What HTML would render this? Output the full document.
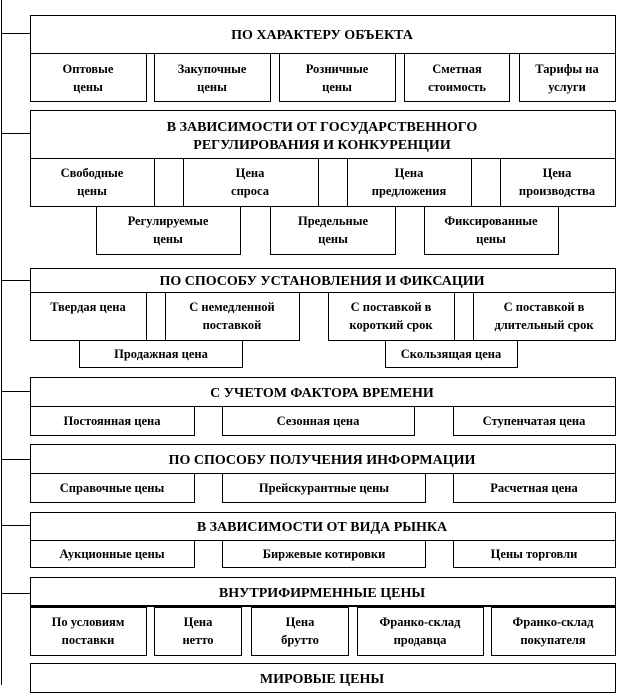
<!DOCTYPE html>
<html><head><meta charset="utf-8"><style>
html,body{margin:0;padding:0;background:#fff;}
svg{display:block}
text{font-family:"Liberation Serif",serif;font-weight:bold;fill:#000;text-anchor:middle;}
.h{font-size:14px}
.s{font-size:12.5px}
rect{fill:#fff;stroke:#000;stroke-width:1}
line{stroke:#000;stroke-width:1}
</style></head><body>
<svg width="618" height="696" viewBox="0 0 618 696" xmlns="http://www.w3.org/2000/svg">
<line x1="1.5" y1="0" x2="1.5" y2="685"/>
<line x1="1" y1="33.5" x2="30" y2="33.5"/>
<line x1="1" y1="133.5" x2="30" y2="133.5"/>
<line x1="1" y1="280.5" x2="30" y2="280.5"/>
<line x1="1" y1="391.5" x2="30" y2="391.5"/>
<line x1="1" y1="459.5" x2="30" y2="459.5"/>
<line x1="1" y1="525.5" x2="30" y2="525.5"/>
<line x1="1" y1="593.5" x2="30" y2="593.5"/>

<!-- S1 -->
<rect x="30.5" y="15.5" width="585" height="38"/>
<text class="h" x="322" y="39">ПО ХАРАКТЕРУ  ОБЪЕКТА</text>
<rect x="30.5" y="53.5" width="116" height="48"/>
<rect x="154.5" y="53.5" width="116" height="48"/>
<rect x="279.5" y="53.5" width="116" height="48"/>
<rect x="404.5" y="53.5" width="105" height="48"/>
<rect x="519.5" y="53.5" width="96" height="48"/>
<text class="s" x="88" y="73">Оптовые</text><text class="s" x="88" y="91">цены</text>
<text class="s" x="212" y="73">Закупочные</text><text class="s" x="212" y="91">цены</text>
<text class="s" x="337" y="73">Розничные</text><text class="s" x="337" y="91">цены</text>
<text class="s" x="457" y="73">Сметная</text><text class="s" x="457" y="91">стоимость</text>
<text class="s" x="567" y="73">Тарифы на</text><text class="s" x="567" y="91">услуги</text>

<!-- S2 -->
<rect x="30.5" y="110.5" width="585" height="48"/>
<text class="h" x="322" y="131">В ЗАВИСИМОСТИ  ОТ ГОСУДАРСТВЕННОГО</text>
<text class="h" x="322" y="149">РЕГУЛИРОВАНИЯ  И КОНКУРЕНЦИИ</text>
<rect x="30.5" y="158.5" width="585" height="48"/>
<line x1="154.5" y1="158" x2="154.5" y2="206"/>
<line x1="183.5" y1="158" x2="183.5" y2="206"/>
<line x1="318.5" y1="158" x2="318.5" y2="206"/>
<line x1="347.5" y1="158" x2="347.5" y2="206"/>
<line x1="471.5" y1="158" x2="471.5" y2="206"/>
<line x1="500.5" y1="158" x2="500.5" y2="206"/>
<text class="s" x="92" y="177">Свободные</text><text class="s" x="92" y="195">цены</text>
<text class="s" x="250" y="177">Цена</text><text class="s" x="250" y="195">спроса</text>
<text class="s" x="409" y="177">Цена</text><text class="s" x="409" y="195">предложения</text>
<text class="s" x="557" y="177">Цена</text><text class="s" x="557" y="195">производства</text>
<rect x="96.5" y="206.5" width="144" height="48"/>
<rect x="270.5" y="206.5" width="125" height="48"/>
<rect x="424.5" y="206.5" width="134" height="48"/>
<text class="s" x="168" y="225">Регулируемые</text><text class="s" x="168" y="243">цены</text>
<text class="s" x="333" y="225">Предельные</text><text class="s" x="333" y="243">цены</text>
<text class="s" x="491" y="225">Фиксированные</text><text class="s" x="491" y="243">цены</text>

<!-- S3 -->
<rect x="30.5" y="268.5" width="585" height="24"/>
<text class="h" x="322" y="285">ПО СПОСОБУ УСТАНОВЛЕНИЯ  И ФИКСАЦИИ</text>
<rect x="30.5" y="292.5" width="116" height="48"/>
<rect x="146.5" y="292.5" width="19" height="48"/>
<rect x="165.5" y="292.5" width="134" height="48"/>
<rect x="328.5" y="292.5" width="126" height="48"/>
<rect x="454.5" y="292.5" width="19" height="48"/>
<rect x="473.5" y="292.5" width="142" height="48"/>
<text class="s" x="88" y="311">Твердая цена</text>
<text class="s" x="232" y="311">С немедленной</text><text class="s" x="232" y="329">поставкой</text>
<text class="s" x="391" y="311">С поставкой в</text><text class="s" x="391" y="329">короткий срок</text>
<text class="s" x="544" y="311">С поставкой в</text><text class="s" x="544" y="329">длительный срок</text>
<rect x="79.5" y="340.5" width="163" height="27"/>
<rect x="385.5" y="340.5" width="132" height="27"/>
<text class="s" x="161" y="358">Продажная цена</text>
<text class="s" x="451" y="358">Скользящая  цена</text>

<!-- S4 -->
<rect x="30.5" y="377.5" width="585" height="29"/>
<text class="h" x="322" y="397">С УЧЕТОМ  ФАКТОРА ВРЕМЕНИ</text>
<rect x="30.5" y="406.5" width="164" height="29"/>
<rect x="222.5" y="406.5" width="192" height="29"/>
<rect x="453.5" y="406.5" width="162" height="29"/>
<text class="s" x="112" y="425">Постоянная цена</text>
<text class="s" x="318" y="425">Сезонная цена</text>
<text class="s" x="534" y="425">Ступенчатая цена</text>

<!-- S5 -->
<rect x="30.5" y="444.5" width="585" height="29"/>
<text class="h" x="322" y="464">ПО СПОСОБУ ПОЛУЧЕНИЯ  ИНФОРМАЦИИ</text>
<rect x="30.5" y="473.5" width="164" height="29"/>
<rect x="222.5" y="473.5" width="203" height="29"/>
<rect x="453.5" y="473.5" width="162" height="29"/>
<text class="s" x="112" y="492">Справочные цены</text>
<text class="s" x="324" y="492">Прейскурантные цены</text>
<text class="s" x="534" y="492">Расчетная цена</text>

<!-- S6 -->
<rect x="30.5" y="512.5" width="585" height="28"/>
<text class="h" x="322" y="531">В ЗАВИСИМОСТИ  ОТ ВИДА РЫНКА</text>
<rect x="30.5" y="540.5" width="164" height="27"/>
<rect x="222.5" y="540.5" width="203" height="27"/>
<rect x="453.5" y="540.5" width="162" height="27"/>
<text class="s" x="112" y="558">Аукционные цены</text>
<text class="s" x="324" y="558">Биржевые котировки</text>
<text class="s" x="534" y="558">Цены торговли</text>

<!-- S7 -->
<rect x="30.5" y="577.5" width="585" height="29"/>
<line x1="30" y1="606" x2="616" y2="606" style="stroke-width:2"/>
<text class="h" x="322" y="597">ВНУТРИФИРМЕННЫЕ  ЦЕНЫ</text>
<rect x="30.5" y="607.5" width="116" height="48"/>
<rect x="154.5" y="607.5" width="87" height="48"/>
<rect x="251.5" y="607.5" width="97" height="48"/>
<rect x="357.5" y="607.5" width="126" height="48"/>
<rect x="491.5" y="607.5" width="124" height="48"/>
<text class="s" x="88" y="626">По условиям</text><text class="s" x="88" y="644">поставки</text>
<text class="s" x="198" y="626">Цена</text><text class="s" x="198" y="644">нетто</text>
<text class="s" x="300" y="626">Цена</text><text class="s" x="300" y="644">брутто</text>
<text class="s" x="420" y="626">Франко-склад</text><text class="s" x="420" y="644">продавца</text>
<text class="s" x="553" y="626">Франко-склад</text><text class="s" x="553" y="644">покупателя</text>

<!-- S8 -->
<rect x="30.5" y="663.5" width="585" height="29"/>
<text class="h" x="322" y="683">МИРОВЫЕ ЦЕНЫ</text>
</svg>
</body></html>
